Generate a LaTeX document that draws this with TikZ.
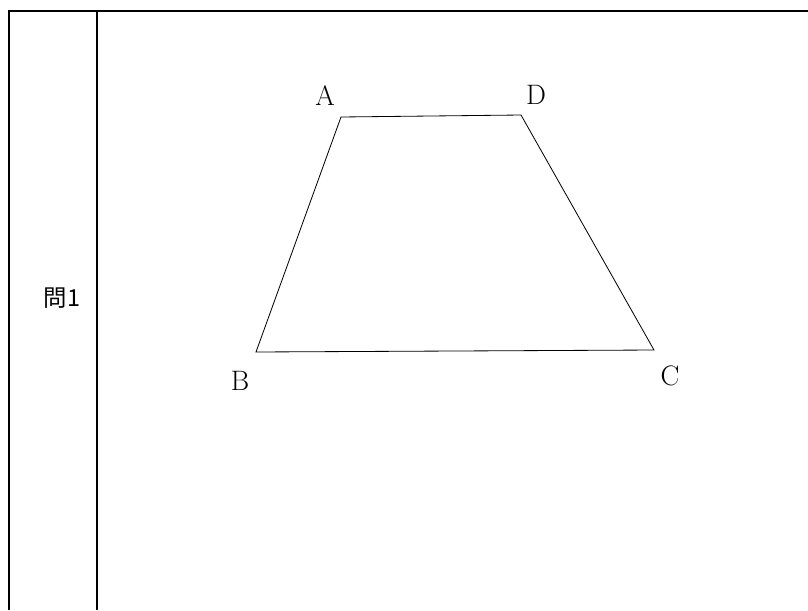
\documentclass[tikz,border=0pt]{standalone}
\usepackage{fontspec}
\newfontfamily\jpfont{Noto Sans CJK JP}
\usepackage{tikz}
\usetikzlibrary{positioning, calc}

\begin{document}
\begin{tikzpicture}[
      x=0.03cm, y=-0.03cm,
      vertex/.style={inner sep=0pt, outer sep=0pt},
      vlabel/.style={font=\fontsize{24}{28}\selectfont},
      frame/.style={line width=1.7pt},
      edge/.style={line width=0.7pt}
    ]
    \useasboundingbox (0,0) rectangle (808,610);

    % Table frame
    \draw[frame] (9,610) -- (9,11) -- (808,11);
    \draw[frame] (97,11) -- (97,610);
    \node[font=\jpfont\fontsize{20}{24}\selectfont] (q) at (62,298) {問1};

    % Vertices of the trapezoid
    \coordinate (A) at (341,117);
    \coordinate (D) at (521,115);
    \coordinate (B) at (256,352);
    \coordinate (C) at (654,350);

    % Vertex labels
    \node[vlabel] (la) at (325,96) {A};
    \node[vlabel] (ld) at (536,95) {D};
    \node[vlabel] (lb) at (240,381) {B};
    \node[vlabel] (lc) at (670,376) {C};

    % Sides
    \draw[edge] (A) -- (D) -- (C) -- (B) -- cycle;
  \end{tikzpicture}
\end{document}
